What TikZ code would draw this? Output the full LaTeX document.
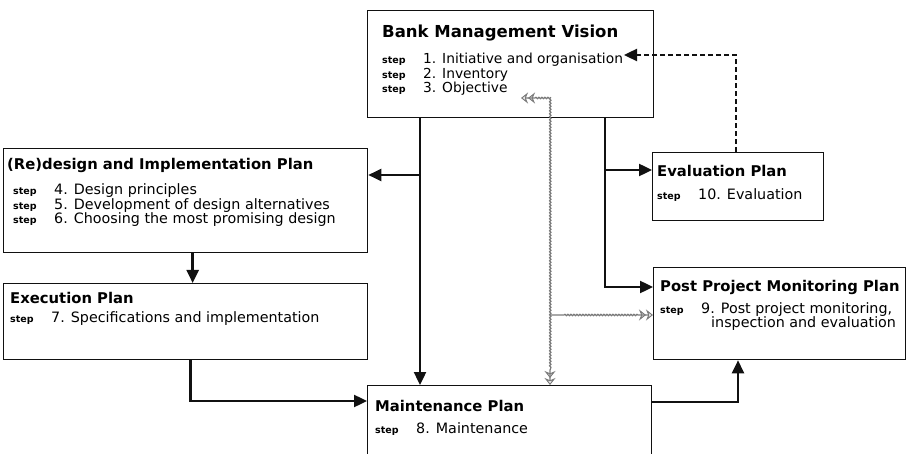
\documentclass[tikz,border=0pt]{standalone}
\usepackage{fontspec}
\setmainfont{DejaVu Sans}
\usetikzlibrary{positioning, arrows.meta, decorations.pathmorphing}
\definecolor{inkblack}{HTML}{111111}
\definecolor{wavegray}{HTML}{7A7A7A}

\newcommand{\plantitle}[1]{{\fontsize{14.8}{16}\selectfont\bfseries #1}}
\newcommand{\steptag}{\makebox[41pt][l]{\fontsize{9.5}{10}\selectfont\bfseries step}}

\begin{document}
\begin{tikzpicture}[x=1pt, y=-1pt,
    planbox/.style={draw=inkblack, line width=1.3pt, anchor=north west, inner sep=0pt},
    plantext/.style={anchor=north west, inner sep=0pt, align=left, font=\fontsize{14.3}{14.5}\selectfont},
    flow/.style={draw=inkblack, line width=2.4pt, -{Triangle[length=13pt, width=12pt]}},
    feedback/.style={draw=inkblack, line width=2.4pt, dash pattern=on 5pt off 3pt, -{Triangle[length=13pt, width=12pt]}},
    wavetip/.tip={Stealth[open, length=7pt, width=11pt, line width=1pt] Stealth[open, length=7pt, width=11pt, line width=1pt]},
    wavy/.style={draw=wavegray, line width=1.2pt, decorate,
                 decoration={snake, amplitude=0.7pt, segment length=3pt, pre length=14pt, post length=14pt}}
    ]
    \useasboundingbox (0,0) rectangle (907,454);
    \clip (0,0) rectangle (907,454);

    % plan boxes
    \node[planbox, minimum width=286pt, minimum height=107pt] (vision) at (367,10) {};
    \node[planbox, minimum width=364pt, minimum height=104pt] (redesign) at (3,148) {};
    \node[planbox, minimum width=364pt, minimum height=76pt] (exec) at (3,283) {};
    \node[planbox, minimum width=171pt, minimum height=68pt] (eval) at (652,152) {};
    \node[planbox, minimum width=252pt, minimum height=92pt] (post) at (653,267) {};
    \node[planbox, minimum width=284pt, minimum height=100pt] (maint) at (367,385) {};

    % box texts
    \node[plantext, font=\fontsize{13.8}{14.5}\selectfont] (visiontext) at ([xshift=15pt, yshift=-14.5pt]vision.north west) {%
      {\fontsize{16.5}{18}\selectfont\bfseries Bank Management Vision}\\[12pt]
      \steptag 1. Initiative and organisation\\
      \steptag 2. Inventory\\
      \steptag 3. Objective};
    \node[plantext] (redesigntext) at ([xshift=4pt, yshift=-9.7pt]redesign.north west) {%
      \plantitle{(Re)design and Implementation Plan}\\[11pt]
      \hspace*{6pt}\steptag 4. Design principles\\
      \hspace*{6pt}\steptag 5. Development of design alternatives\\
      \hspace*{6pt}\steptag 6. Choosing the most promising design};
    \node[plantext] (exectext) at ([xshift=7pt, yshift=-8.7pt]exec.north west) {%
      \plantitle{Execution Plan}\\[4.5pt]
      \steptag 7. Specifications and implementation};
    \node[plantext] (evaltext) at ([xshift=5pt, yshift=-12.7pt]eval.north west) {%
      \plantitle{Evaluation Plan}\\[9pt]
      \steptag 10. Evaluation};
    \node[plantext] (posttext) at ([xshift=7pt, yshift=-12.7pt]post.north west) {%
      \plantitle{Post Project Monitoring Plan}\\[7.5pt]
      \steptag 9. Post project monitoring,\\
      \hspace*{51pt}inspection and evaluation};
    \node[plantext] (mainttext) at ([xshift=8pt, yshift=-14.7pt]maint.north west) {%
      \plantitle{Maintenance Plan}\\[7.5pt]
      \steptag 8. Maintenance};

    % junctions
    \coordinate (leftbus) at (420,175);
    \coordinate (rightbus) at (605,170);
    \coordinate (rightbend) at (605,287);
    \coordinate (waveturn) at (550,315);
    \coordinate (orgtip) at (624,55);
    \coordinate (objtip) at (521,98);

    % connectors
    \draw[flow] (vision.south -| leftbus) -- (maint.north -| leftbus);
    \draw[flow] (leftbus) -- (leftbus -| redesign.east);
    \draw[flow] (vision.south -| rightbus) -- (rightbend) -- (rightbend -| post.west);
    \draw[flow] (rightbus) -- (rightbus -| eval.west);
    \draw[flow] ([xshift=7pt]redesign.south) -- ([xshift=7pt]exec.north);
    \draw[flow] ([xshift=5pt]exec.south) |- ([yshift=-16pt]maint.north west);
    \draw[flow] ([yshift=-17pt]maint.north east) -| ([xshift=85pt]post.south west);
    \draw[feedback] ([xshift=84pt]eval.north west) |- (orgtip);
    \draw[wavy, wavetip-wavetip] (objtip) -| (maint.north -| waveturn);
    \draw[wavy, -wavetip] (waveturn) -- (waveturn -| post.west);
\end{tikzpicture}
\end{document}
